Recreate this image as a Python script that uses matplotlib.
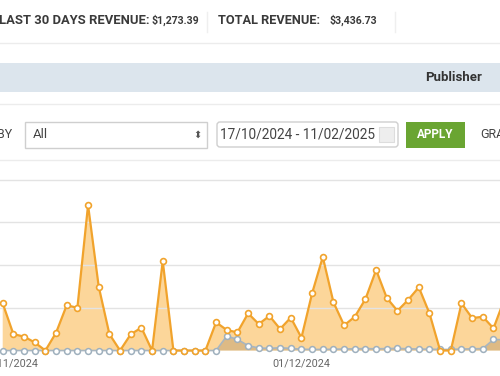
import numpy as np
import matplotlib
matplotlib.use('Agg')
import matplotlib.pyplot as plt
from matplotlib.patches import Rectangle, FancyBboxPatch

plt.rcParams['font.family'] = ['Roboto', 'DejaVu Sans']

# revenue per day (orange) and second series (grey)
revenue = [22.1, 7.7, 6.5, 3.8, 0, 8.3, 21.2, 20.0, 68.1, 29.9, 7.7, 0,
           7.6, 10.7, 0, 41.9, 0, 0, 0, 0, 13.2, 9.6, 8.5, 17.4, 12.4,
           16.2, 10.1, 15.4, 6.0, 26.8, 43.8, 22.6, 11.8, 15.8, 24.1, 37.7,
           24.6, 18.6, 23.7, 29.6, 17.4, 0, 0, 22.1, 15.2, 15.8, 10.4, 23.7]
other = [0, 0, 0, 0, 0, 0, 0, 0, 0, 0, 0, 0,
         0, 0, 0, 0, 0, 0, 0, 0, 0, 6.8, 5.2, 2.3, 1.2,
         1.0, 1.3, 1.0, 0.6, 0.5, 0.5, 0.6, 0.7, 0.8, 0.9, 0.8,
         0.9, 1.0, 0.8, 0.7, 0.6, 0.5, 0.5, 0.7, 0.8, 0.9, 5.2, 5.0]
tick_pos = [0.6, 28]
tick_labels = ['01/11/2024', '01/12/2024']

W, H = 500, 376
fig = plt.figure(figsize=(W / 100, H / 100), dpi=100)
fig.patch.set_facecolor('white')

# ---- page chrome, drawn in pixel coordinates ----
ui = fig.add_axes([0, 0, 1, 1])
ui.set_xlim(0, W)
ui.set_ylim(H, 0)
ui.axis('off')

ui.text(-1, 20.5, 'LAST 30 DAYS REVENUE:', fontsize=9.4, fontweight='bold',
        color='#3a3a3a', va='center', ha='left')
ui.text(151, 20.5, '$1,273.39', fontsize=7.6, fontweight='bold', color='#3a3a3a',
        va='center', ha='left')
ui.text(218, 20.5, 'TOTAL REVENUE:', fontsize=9.2, fontweight='bold',
        color='#3a3a3a', va='center', ha='left')
ui.text(330, 20.5, '$3,436.73', fontsize=7.6, fontweight='bold', color='#3a3a3a',
        va='center', ha='left')
for xs in (207, 395):
    ui.plot([xs, xs], [12, 32], color='#efefef', lw=1)
ui.plot([0, W], [43, 43], color='#ececec', lw=1)

ui.add_patch(Rectangle((0, 63), W, 29, facecolor='#dce5ed', edgecolor='none'))
ui.text(482, 77.5, 'Publisher', fontsize=9.5, fontweight='bold', color='#333333',
        va='center', ha='right')
ui.plot([0, W], [104, 104], color='#ececec', lw=1)

ui.text(-3, 135, 'BY', fontsize=9, color='#444444', va='center', ha='left')
ui.add_patch(Rectangle((25, 122), 182, 26, facecolor='white',
                       edgecolor='#cfcfcf', lw=1))
ui.text(33, 135, 'All', fontsize=9.5, color='#444444', va='center', ha='left')
ui.text(197, 135, '\u2b0d', fontsize=7, color='#555555', va='center',
        ha='center', family=['DejaVu Sans'])

ui.add_patch(FancyBboxPatch((217, 122), 181, 25,
                            boxstyle='round,pad=0,rounding_size=3',
                            facecolor='white', edgecolor='#cfcfcf', lw=1))
ui.text(220, 134.5, '17/10/2024 - 11/02/2025', fontsize=9.8, color='#444444',
        va='center', ha='left')
ui.add_patch(Rectangle((379, 127), 15, 15, facecolor='#eeeeee',
                       edgecolor='#dddddd', lw=0.8))

ui.add_patch(Rectangle((406, 122), 59, 26, facecolor='#6aa532',
                       edgecolor='none'))
ui.text(435.5, 135, 'APPLY', fontsize=8.5, fontweight='bold', color='white',
        va='center', ha='center')
ui.text(480, 135, 'GRA', fontsize=9, color='#444444', va='center', ha='left')

ui.plot([0, W], [160, 160], color='#ececec', lw=1)

# ---- chart ----
x = np.arange(len(revenue))
ax = fig.add_axes([0, (H - 358) / H, 1, (358 - 179) / H])
ax.patch.set_alpha(0)
ax.set_xlim(-0.253, 46.61)
ax.set_ylim(-3.5, 80.3)
for s in ax.spines.values():
    s.set_visible(False)
ax.set_yticks([20, 40, 60, 80])
ax.yaxis.grid(True, color='#e3e3e3', lw=1)
ax.tick_params(axis='y', length=0, labelleft=False)
ax.set_xticks(tick_pos)
ax.set_xticklabels(tick_labels, fontsize=7.8, color='#666666')
ax.tick_params(axis='x', length=0, pad=0.5)

ax.fill_between(x, revenue, 0, color='#fbc978', alpha=0.75, lw=0, zorder=1)
ax.fill_between(x, other, 0, color='#b8996c', alpha=0.45, lw=0, zorder=2)
ax.plot(x, other, color='#a9b6c0', lw=1.2, marker='o', ms=4.2, mfc='white',
        mec='#9fb0bd', mew=1.1, zorder=3, clip_on=False)
ax.plot(x, revenue, color='#f1a32c', lw=1.6, marker='o', ms=4.2, mfc='white',
        mec='#f1a32c', mew=1.2, zorder=4)

fig.savefig('out.png', dpi=100)
